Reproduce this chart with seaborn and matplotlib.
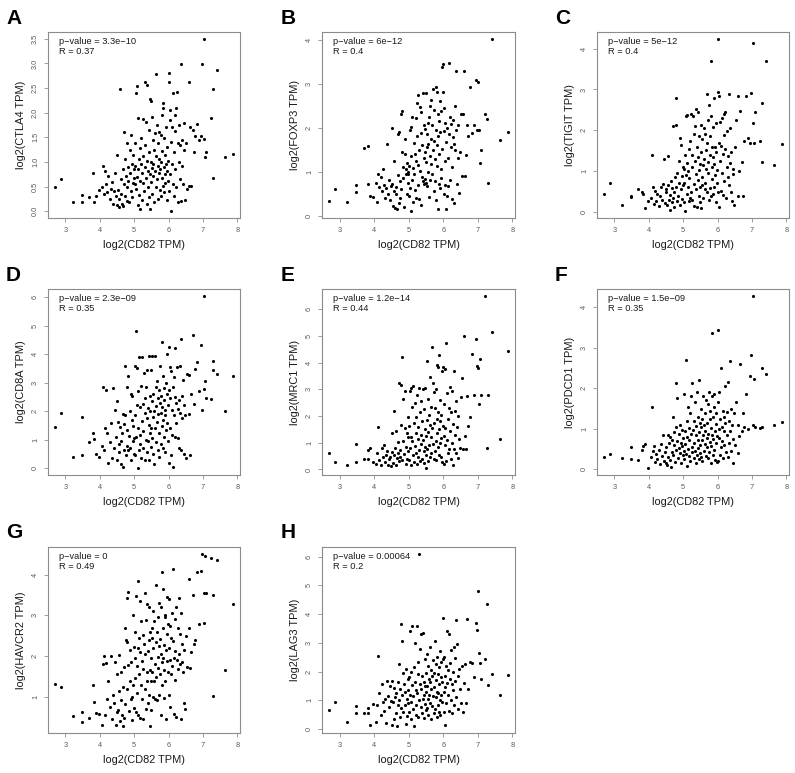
import matplotlib
matplotlib.use("Agg")
import matplotlib.pyplot as plt
import seaborn as sns

# --- data: log2(CD82 TPM) shared by all panels, gene values in the same order ---
CD82_X = [
    2.70, 2.87, 3.22, 3.47, 3.49,
    3.70, 3.81, 3.83, 3.89, 3.97,
    4.05, 4.09, 4.12, 4.15, 4.19, 4.22, 4.25, 4.29, 4.32, 4.35, 4.38, 4.41, 4.44, 4.46, 4.49,
    4.51, 4.53, 4.55, 4.57, 4.59, 4.61, 4.62, 4.64, 4.66, 4.68, 4.69, 4.71, 4.73, 4.74, 4.76,
    4.78, 4.79, 4.80, 4.82, 4.83, 4.85, 4.87, 4.88, 4.90, 4.91, 4.93, 4.94, 4.96, 4.97, 4.98, 4.99,
    5.01, 5.02, 5.03, 5.05, 5.06, 5.07, 5.08, 5.10, 5.11, 5.12, 5.13, 5.15, 5.16, 5.17, 5.18,
    5.20, 5.21, 5.22, 5.23, 5.25, 5.26, 5.27, 5.28, 5.30, 5.31, 5.32, 5.33, 5.35, 5.36, 5.37,
    5.38, 5.40, 5.41, 5.42, 5.43, 5.44, 5.45, 5.46, 5.47, 5.48, 5.49, 5.50,
    5.51, 5.52, 5.53, 5.54, 5.55, 5.56, 5.57, 5.58, 5.60, 5.61, 5.62, 5.63, 5.64, 5.65, 5.66,
    5.68, 5.69, 5.70, 5.71, 5.72, 5.73, 5.74, 5.76, 5.77, 5.78, 5.79, 5.80, 5.81, 5.82, 5.83,
    5.84, 5.85, 5.86, 5.87, 5.88, 5.89, 5.90, 5.91, 5.92, 5.93, 5.94, 5.95, 5.96, 5.97, 5.98,
    6.00, 6.01, 6.02, 6.03, 6.04, 6.05, 6.06, 6.08, 6.09, 6.10, 6.12, 6.13, 6.15, 6.16, 6.18,
    6.19, 6.20, 6.22, 6.23, 6.25, 6.26, 6.27, 6.29, 6.30, 6.32, 6.33, 6.35, 6.36, 6.38, 6.40,
    6.42, 6.44, 6.46, 6.48,
    6.52, 6.55, 6.58, 6.60, 6.63, 6.66, 6.70, 6.73, 6.78, 6.82, 6.88, 6.95, 6.97,
    7.02, 7.03, 7.05, 7.08, 7.22, 7.28, 7.30, 7.40, 7.65, 7.87,
]

CTLA4_Y = [
    0.50, 0.65, 0.18, 0.32, 0.19,
    0.29, 0.78, 0.18, 0.31, 0.42,
    0.48, 0.92, 0.35, 0.82, 0.55, 0.38, 0.72, 0.25, 0.45, 0.60, 0.15, 0.40, 0.78, 0.30, 1.15,
    0.12, 0.42, 0.25, 0.08, 2.49, 0.65, 0.35, 0.15, 0.85, 0.10, 1.60, 0.55, 0.30, 1.05, 0.72,
    0.20, 1.38, 0.48, 0.90, 0.62, 0.18, 1.25, 0.78, 0.40, 1.55, 0.95, 0.28, 0.58, 1.15, 0.68, 0.85,
    0.55, 0.92, 1.38, 0.45, 2.40, 2.55, 0.70, 0.12, 1.90, 0.85, 0.32, 1.05, 0.62, 1.28, 0.05,
    0.95, 1.48, 0.78, 0.22, 1.12, 1.88, 0.58, 0.40, 0.90, 1.35, 2.63, 0.68, 1.82, 0.15, 2.57,
    1.02, 0.48, 0.82, 1.65, 0.28, 1.20, 2.27, 0.75, 0.05, 2.23, 1.00, 0.60,
    1.92, 0.88, 0.35, 1.45, 0.72, 0.95, 1.25, 0.18, 1.58, 0.82, 0.48, 1.12, 2.79, 0.65, 1.75,
    0.92, 0.25, 1.38, 0.78, 1.05, 1.60, 0.42, 0.85, 1.55, 0.30, 1.00, 0.68, 1.95, 1.22, 0.52,
    2.20, 2.10, 0.90, 1.48, 0.38, 0.75, 1.15, 0.58, 1.70, 0.95, 0.22, 1.30, 0.82, 1.02, 0.62,
    2.80, 2.62, 0.40, 1.85, 2.05, 0.75, 1.40, 0.00, 1.70, 0.95, 0.55, 2.40, 1.20, 0.30, 1.62,
    1.95, 0.85, 2.10, 0.48, 2.42, 1.38, 0.18, 1.00, 1.75, 1.35, 0.65, 2.98, 0.20, 1.45, 0.92,
    0.55, 1.25, 1.80, 0.22,
    1.38, 0.45, 2.62, 0.52, 1.70, 0.52, 1.65, 1.20, 1.52, 1.78, 1.45, 1.52, 2.98,
    3.50, 1.47, 1.10, 1.20, 1.90, 2.48, 0.68, 2.86, 1.10, 1.17,
]

FOXP3_Y = [
    0.33, 0.61, 0.31, 0.70, 0.53,
    1.54, 1.59, 0.71, 0.45, 0.41,
    0.75, 0.30, 0.95, 0.65, 0.88, 0.55, 1.05, 0.70, 0.40, 0.62, 1.62, 0.50, 0.80, 0.35, 0.68,
    2.00, 0.72, 0.22, 0.55, 1.25, 0.18, 0.65, 0.48, 0.15, 1.85, 0.92, 0.28, 1.90, 0.78, 0.40,
    2.30, 0.60, 1.45, 2.38, 0.85, 1.10, 0.20, 1.40, 1.75, 0.95, 1.05, 0.50, 1.20, 0.75, 1.00, 0.95,
    1.12, 0.45, 1.95, 0.62, 2.02, 0.10, 1.35, 0.80, 2.25, 1.08, 0.30, 1.65, 0.95, 1.40, 0.58,
    2.22, 1.25, 0.40, 1.80, 2.55, 1.15, 0.70, 2.75, 1.50, 0.38, 2.48, 1.02, 0.25, 1.88, 2.35,
    0.88, 1.60, 2.78, 0.78, 1.30, 2.05, 0.72, 1.45, 0.82, 1.98, 0.75, 1.22,
    2.78, 1.55, 0.68, 1.85, 2.10, 1.00, 1.62, 0.42, 2.25, 1.35, 2.50, 0.80, 1.75, 2.62, 1.18,
    2.05, 0.95, 1.48, 2.88, 1.70, 0.55, 2.40, 1.28, 0.78, 2.92, 1.95, 0.35, 2.82, 1.12, 1.60,
    0.15, 2.30, 1.80, 0.72, 2.15, 1.40, 0.62, 2.60, 1.90, 1.05, 2.38, 0.85, 1.52, 3.39, 3.45,
    2.82, 0.48, 1.92, 2.45, 0.70, 1.25, 2.10, 0.15, 1.68, 0.45, 2.00, 1.30, 0.68, 3.47, 1.85,
    2.25, 0.80, 1.55, 2.08, 1.10, 0.38, 1.78, 2.18, 0.28, 1.62, 1.48, 2.50, 3.30, 1.95, 0.72,
    1.30, 2.05, 0.52, 1.45,
    2.32, 0.90, 2.30, 3.30, 0.90, 1.38, 2.05, 1.80, 2.92, 1.88, 2.05, 3.09, 1.95,
    3.04, 1.95, 1.19, 1.50, 2.31, 2.19, 0.74, 4.02, 1.72, 1.90,
]

TIGIT_Y = [
    0.44, 0.72, 0.16, 0.37, 0.39,
    0.55, 0.48, 0.45, 0.10, 0.27,
    0.35, 1.40, 0.62, 0.20, 0.52, 0.28, 0.45, 0.15, 0.38, 0.60, 0.30, 0.68, 1.30, 0.22, 0.50,
    0.55, 0.18, 1.38, 0.65, 0.30, 0.42, 0.05, 0.75, 0.25, 0.58, 0.35, 2.10, 0.48, 0.12, 0.85,
    2.12, 0.60, 2.79, 0.28, 0.95, 0.40, 1.25, 0.70, 1.80, 0.18, 0.55, 1.65, 0.88, 0.32, 1.10, 0.65,
    1.05, 0.25, 0.72, 1.40, 0.02, 0.90, 2.35, 0.45, 1.20, 2.38, 0.62, 1.00, 0.28, 1.55, 0.82,
    0.35, 1.75, 0.50, 2.40, 1.10, 0.30, 1.40, 2.35, 0.68, 1.90, 0.15, 2.10, 1.25, 0.55, 2.52,
    0.92, 1.60, 0.12, 1.35, 0.78, 2.45, 0.40, 1.85, 1.02, 0.25, 0.60, 1.18,
    0.10, 1.48, 2.12, 0.65, 1.78, 0.85, 1.15, 0.35, 2.05, 1.30, 0.55, 1.92, 0.72, 1.52, 1.05,
    2.90, 0.48, 1.68, 2.25, 0.95, 1.22, 0.30, 2.62, 1.40, 0.58, 1.85, 0.40, 2.35, 3.70, 1.10,
    0.80, 1.58, 2.08, 0.45, 1.35, 0.62, 2.80, 1.18, 0.90, 1.60, 0.25, 2.18, 1.48, 0.70, 1.02,
    4.24, 2.95, 0.48, 1.70, 2.85, 0.12, 1.25, 2.20, 0.52, 1.62, 0.95, 2.30, 1.42, 0.42, 1.88,
    2.40, 0.75, 1.55, 2.45, 0.35, 1.10, 1.98, 0.85, 1.38, 2.88, 0.65, 1.20, 2.05, 0.50, 1.48,
    0.28, 1.05, 0.92, 0.18,
    1.60, 2.25, 0.40, 2.85, 1.00, 2.48, 1.22, 0.38, 1.75, 2.85, 1.80, 1.69, 2.92,
    2.18, 4.13, 1.70, 2.45, 1.74, 2.67, 1.23, 3.69, 1.15, 1.66,
]

CD8A_Y = [
    1.45, 1.93, 0.39, 1.79, 0.47,
    0.91, 1.23, 1.03, 0.50, 0.40,
    0.78, 2.86, 0.65, 1.42, 2.73, 1.25, 0.18, 0.92, 1.60, 0.35, 2.80, 0.70, 2.03, 1.10, 0.30,
    2.35, 1.62, 0.85, 0.55, 1.45, 0.15, 0.95, 1.22, 0.05, 1.90, 1.55, 0.62, 3.58, 1.85, 0.45,
    1.35, 0.78, 2.85, 0.65, 3.22, 1.12, 2.02, 0.72, 2.60, 0.30, 1.70, 2.52, 0.95, 1.48, 0.50, 1.05,
    3.60, 0.45, 1.85, 4.82, 1.10, 3.50, 2.20, 0.00, 1.40, 2.70, 0.62, 3.90, 1.15, 2.15, 0.85,
    2.90, 0.35, 1.65, 3.92, 2.25, 0.72, 1.30, 3.35, 0.28, 1.95, 2.45, 1.00, 2.85, 3.45, 0.55,
    1.75, 2.10, 0.95, 3.93, 1.50, 0.30, 2.55, 1.22, 2.00, 0.75, 3.45, 1.40,
    2.35, 1.05, 3.93, 0.48, 2.62, 1.78, 2.00, 0.15, 3.95, 1.42, 2.85, 0.92, 2.18, 1.62, 3.05,
    0.65, 2.45, 1.90, 0.40, 2.75, 1.25, 3.60, 2.28, 0.85, 1.95, 2.55, 1.48, 4.42, 2.15, 0.70,
    1.70, 3.25, 2.40, 1.10, 2.80, 1.85, 0.55, 2.05, 3.00, 1.35, 2.60, 4.02, 1.58, 2.22, 0.95,
    4.26, 2.75, 0.18, 3.55, 1.40, 2.45, 0.45, 3.40, 2.05, 1.15, 2.85, 0.04, 1.85, 3.20, 2.50,
    1.10, 4.22, 2.30, 1.60, 3.55, 1.05, 2.08, 0.70, 2.38, 3.60, 1.92, 4.54, 0.65, 2.55, 1.75,
    3.10, 0.50, 2.20, 1.85,
    0.35, 3.30, 1.90, 3.28, 0.45, 2.60, 4.69, 2.25, 3.48, 3.72, 2.70, 4.34, 2.05,
    2.78, 6.05, 3.05, 2.45, 2.43, 3.76, 3.45, 3.30, 2.00, 3.23,
]

MRC1_Y = [
    0.62, 0.28, 0.16, 0.95, 0.28,
    0.40, 0.40, 0.74, 0.82, 0.28,
    0.19, 0.62, 1.58, 0.35, 0.15, 0.82, 0.45, 0.92, 0.28, 0.55, 0.70, 0.18, 0.38, 0.48, 0.12,
    0.65, 1.38, 0.25, 2.18, 0.55, 0.80, 0.15, 1.45, 0.42, 0.62, 1.02, 0.30, 3.22, 0.72, 0.48,
    3.15, 1.68, 4.23, 0.35, 2.65, 1.05, 0.58, 2.95, 1.55, 0.22, 0.85, 1.35, 0.40, 1.95, 0.70, 1.20,
    1.62, 0.35, 2.92, 0.80, 3.05, 1.20, 0.18, 2.35, 1.05, 0.55, 3.12, 1.75, 0.28, 2.50, 0.88,
    1.38, 0.60, 1.95, 0.20, 2.80, 1.15, 0.45, 1.60, 3.05, 0.72, 2.15, 0.32, 1.30, 2.58, 0.95,
    1.80, 0.40, 3.00, 1.10, 0.68, 2.25, 0.25, 1.50, 3.05, 0.85, 0.05, 1.25,
    0.55, 1.85, 4.05, 0.75, 2.62, 1.40, 0.30, 2.05, 0.90, 1.65, 0.48, 3.45, 1.20, 2.35, 0.62,
    4.57, 1.55, 0.95, 3.25, 0.40, 2.90, 1.75, 0.70, 2.30, 1.05, 3.00, 0.35, 1.90, 3.90, 1.35,
    0.85, 3.82, 2.15, 0.55, 1.50, 4.30, 0.98, 1.80, 2.60, 0.45, 1.18, 2.05, 3.70, 0.28, 1.62,
    3.85, 1.25, 0.22, 2.45, 3.78, 0.90, 1.55, 0.30, 4.72, 1.10, 2.85, 0.60, 1.90, 2.30, 0.75,
    3.10, 1.45, 0.40, 2.15, 1.00, 2.95, 0.18, 1.72, 3.70, 0.75, 2.20, 1.30, 0.62, 2.55, 1.60,
    0.42, 2.00, 1.15, 0.80,
    2.72, 3.42, 0.75, 4.99, 1.25, 0.75, 2.75, 1.62, 1.96, 4.31, 2.78, 4.88, 3.87,
    3.81, 2.45, 4.13, 2.78, 6.50, 0.79, 2.78, 5.15, 1.15, 4.44,
]

PDCD1_Y = [
    0.30, 0.37, 0.27, 0.55, 0.25,
    0.22, 0.47, 0.58, 0.63, 0.03,
    0.30, 1.55, 0.45, 0.58, 0.18, 0.38, 0.25, 0.48, 0.12, 0.62, 0.32, 0.85, 0.20, 0.42, 0.15,
    0.55, 0.10, 0.85, 0.30, 0.65, 0.22, 0.80, 0.05, 0.42, 0.72, 1.28, 0.35, 0.60, 0.92, 0.18,
    1.05, 0.48, 2.14, 0.70, 1.75, 0.28, 0.88, 0.52, 1.10, 0.40, 0.65, 0.15, 0.98, 0.58, 0.35, 0.78,
    0.45, 1.85, 0.25, 0.95, 0.62, 2.70, 0.38, 1.20, 0.80, 0.08, 1.55, 0.50, 1.02, 0.32, 0.72,
    1.38, 0.20, 0.88, 1.80, 0.55, 0.42, 2.12, 0.98, 0.28, 1.20, 0.65, 0.45, 1.65, 0.85, 0.15,
    1.08, 1.90, 0.35, 0.72, 1.30, 0.52, 2.20, 0.92, 0.25, 0.60, 1.15, 0.40,
    1.05, 0.30, 1.50, 0.72, 0.20, 1.25, 0.85, 1.82, 0.45, 1.10, 0.62, 1.40, 0.95, 0.32, 1.70,
    0.78, 1.15, 0.55, 1.62, 0.28, 0.88, 1.92, 0.42, 1.25, 0.68, 1.45, 0.15, 1.02, 0.58, 1.80,
    0.85, 3.36, 0.35, 1.30, 0.75, 1.55, 0.48, 1.85, 0.95, 0.22, 1.12, 0.65, 1.40, 0.82, 0.18,
    3.44, 1.65, 0.20, 1.00, 0.78, 1.90, 0.35, 1.25, 0.55, 2.49, 1.05, 0.70, 1.45, 0.28, 0.95,
    1.30, 0.60, 1.15, 2.05, 0.42, 1.42, 0.85, 2.15, 0.30, 1.20, 0.65, 2.67, 0.95, 1.50, 0.45,
    1.10, 0.15, 0.75, 1.40,
    0.60, 1.65, 0.40, 1.10, 0.82, 2.60, 0.95, 1.38, 1.05, 1.87, 1.00, 2.31, 2.82,
    1.10, 4.28, 2.24, 1.05, 1.01, 2.49, 1.04, 2.35, 1.09, 1.17,
]

HAVCR2_Y = [
    1.31, 1.24, 0.52, 0.63, 0.37,
    0.49, 1.29, 0.87, 0.59, 0.57,
    0.30, 1.80, 2.00, 0.55, 1.82, 0.95, 1.40, 0.75, 2.00, 0.45, 1.05, 0.85, 1.85, 0.30, 0.62,
    1.55, 0.68, 1.15, 2.02, 0.40, 0.92, 1.62, 0.55, 0.28, 1.25, 1.72, 0.48, 2.70, 0.82, 2.40,
    1.20, 2.35, 3.42, 1.78, 3.58, 0.65, 1.40, 2.15, 0.95, 1.85, 0.42, 1.00, 3.02, 1.30, 0.72, 2.22,
    1.95, 1.45, 2.60, 0.62, 3.48, 1.75, 1.10, 3.84, 2.20, 0.55, 2.45, 1.55, 3.35, 0.48, 2.10,
    1.30, 2.85, 0.95, 1.88, 2.52, 0.45, 1.68, 2.30, 3.55, 1.20, 2.05, 0.70, 2.88, 1.62, 1.40,
    3.28, 2.12, 0.85, 2.40, 1.05, 3.20, 1.65, 0.28, 2.58, 1.38, 1.95, 0.68,
    2.45, 1.60, 2.68, 1.00, 3.10, 2.20, 1.38, 2.85, 0.95, 1.80, 3.75, 2.35, 1.48, 2.60, 0.92,
    1.98, 2.95, 1.70, 2.25, 1.05, 3.30, 1.55, 2.42, 0.55, 3.20, 2.05, 1.85, 4.07, 1.30, 2.70,
    1.95, 3.65, 0.98, 2.28, 1.65, 2.95, 1.40, 3.00, 2.15, 0.45, 2.55, 1.88, 3.45, 1.60, 2.80,
    3.40, 2.20, 1.05, 1.90, 2.75, 0.75, 2.45, 1.55, 3.05, 1.75, 4.15, 2.38, 0.58, 1.95, 2.90,
    1.42, 2.12, 3.20, 0.50, 1.90, 2.70, 1.68, 3.42, 2.05, 1.80, 2.55, 0.45, 3.05, 1.85, 2.30,
    1.60, 2.15, 0.85, 0.70,
    2.50, 1.72, 2.70, 3.90, 1.70, 2.10, 3.50, 2.30, 2.40, 4.07, 2.78, 4.10, 4.51,
    2.82, 3.54, 4.46, 3.54, 4.42, 1.02, 3.49, 4.36, 1.67, 3.28,
]

LAG3_Y = [
    0.67, 0.93, 0.23, 0.80, 0.56,
    0.55, 0.74, 0.55, 0.15, 0.88,
    0.23, 0.85, 2.53, 1.25, 0.50, 1.58, 0.95, 0.62, 1.05, 0.20, 1.68, 1.15, 0.75, 1.50, 0.98,
    1.68, 0.15, 0.95, 1.42, 0.35, 1.10, 0.55, 1.25, 0.12, 1.65, 0.82, 2.25, 1.00, 0.40, 1.38,
    3.66, 0.72, 3.05, 1.18, 1.95, 0.60, 1.55, 0.85, 1.28, 0.18, 2.10, 1.05, 0.45, 1.75, 0.90, 1.35,
    1.80, 0.60, 3.41, 1.20, 0.35, 2.00, 0.95, 3.58, 1.52, 0.70, 1.15, 2.15, 0.10, 1.65, 3.00,
    0.85, 1.35, 0.50, 3.60, 1.25, 1.90, 0.40, 2.35, 6.10, 1.00, 1.55, 2.78, 0.75, 1.40, 3.30,
    0.55, 1.85, 1.05, 3.35, 0.38, 1.62, 1.20, 2.45, 0.88, 1.48, 0.65, 1.95,
    1.30, 2.60, 0.72, 1.50, 1.05, 2.20, 0.48, 1.75, 1.20, 2.85, 0.90, 1.62, 0.35, 2.05, 1.40,
    0.80, 1.85, 2.40, 1.15, 0.55, 1.95, 1.45, 3.05, 0.68, 2.25, 1.10, 1.70, 0.42, 2.50, 1.30,
    0.85, 1.90, 1.25, 2.15, 0.60, 1.58, 2.70, 1.02, 0.50, 1.80, 2.35, 1.20, 0.95, 1.65, 2.45,
    3.85, 1.30, 0.58, 2.50, 1.85, 0.15, 1.45, 2.20, 0.90, 3.41, 1.60, 2.05, 1.20, 3.30, 0.62,
    1.75, 2.30, 1.02, 2.75, 1.55, 0.55, 2.00, 1.35, 2.85, 0.85, 1.68, 2.48, 1.10, 3.80, 2.95,
    1.85, 0.70, 2.10, 1.40,
    0.90, 2.20, 0.60, 1.60, 2.25, 0.90, 3.84, 1.40, 2.35, 2.30, 1.82, 3.69, 3.46,
    4.81, 2.64, 2.30, 1.75, 2.45, 4.36, 1.54, 1.91, 1.17, 1.89,
]

PANEL_LETTERS = ["A", "B", "C", "D", "E", "F", "G", "H"]
GENES = ["CTLA4", "FOXP3", "TIGIT", "CD8A", "MRC1", "PDCD1", "HAVCR2", "LAG3"]
GENE_VALUES = [CTLA4_Y, FOXP3_Y, TIGIT_Y, CD8A_Y, MRC1_Y, PDCD1_Y, HAVCR2_Y, LAG3_Y]
P_VALUES = ["3.3e\u221210", "6e\u221212", "5e\u221212", "2.3e\u221209",
            "1.2e\u221214", "1.5e\u221209", "0", "0.00064"]
R_VALUES = ["0.37", "0.4", "0.4", "0.35", "0.44", "0.35", "0.49", "0.2"]
X_TICKS = [3, 4, 5, 6, 7, 8]
Y_TICKS = [
    [0.0, 0.5, 1.0, 1.5, 2.0, 2.5, 3.0, 3.5],
    [0, 1, 2, 3, 4],
    [0, 1, 2, 3, 4],
    [0, 1, 2, 3, 4, 5, 6],
    [0, 1, 2, 3, 4, 5, 6],
    [0, 1, 2, 3, 4],
    [1, 2, 3, 4],
    [0, 1, 2, 3, 4, 5, 6],
]

# --- layout (pixels in a 795x773 figure) ---
FIG_W, FIG_H = 795, 773
COL_LEFT = [48, 322, 597]
COL_WIDTH = [192, 193, 192]
ROW_TOP = [32, 289, 547]
ROW_HEIGHT = [186, 186, 186]
LETTER_X = [6, 281, 555]
LETTER_Y = [9, 266, 523]

BOX_COLOR = "#8c8c8c"
TICK_LABEL_COLOR = "#5a5a5a"
TEXT_COLOR = "#1a1a1a"


def r_limits(values):
    """Axis range like R's default: data range padded by 4% on each side."""
    lo, hi = min(values), max(values)
    pad = (hi - lo) * 0.04
    return lo - pad, hi + pad


def plot_panel(fig, i):
    row, col = divmod(i, 3)
    left = COL_LEFT[col] / FIG_W
    bottom = 1 - (ROW_TOP[row] + ROW_HEIGHT[row]) / FIG_H
    ax = fig.add_axes([left, bottom, COL_WIDTH[col] / FIG_W, ROW_HEIGHT[row] / FIG_H])

    sns.scatterplot(x=CD82_X, y=GENE_VALUES[i], ax=ax, color="black",
                    s=5, linewidth=0, legend=False)

    ax.set_xlim(*r_limits(CD82_X))
    ax.set_ylim(*r_limits(GENE_VALUES[i]))
    ax.set_xticks(X_TICKS)
    ax.set_yticks(Y_TICKS[i])
    if i == 0:
        ax.set_yticklabels([f"{t:.1f}" for t in Y_TICKS[i]])
    else:
        ax.set_yticklabels([str(t) for t in Y_TICKS[i]])
    for lab in ax.get_yticklabels():
        lab.set_rotation(90)
        lab.set_va("center")

    ax.tick_params(axis="both", direction="out", length=3, width=0.6,
                   color=BOX_COLOR, labelcolor=TICK_LABEL_COLOR,
                   labelsize=5.3, pad=3.5, bottom=True, left=True)
    for spine in ax.spines.values():
        spine.set_visible(True)
        spine.set_color(BOX_COLOR)
        spine.set_linewidth(0.8)

    ax.set_xlabel("log2(CD82 TPM)", fontsize=7.9, color=TEXT_COLOR, labelpad=4)
    ax.set_ylabel(f"log2({GENES[i]} TPM)", fontsize=7.9, color=TEXT_COLOR, labelpad=4)

    ax.text(0.057, 0.972, f"p\u2212value = {P_VALUES[i]}\nR = {R_VALUES[i]}",
            transform=ax.transAxes, ha="left", va="top", fontsize=6.7,
            color=TEXT_COLOR, linespacing=1.15)

    fig.text(LETTER_X[col] / FIG_W, 1 - LETTER_Y[row] / FIG_H, PANEL_LETTERS[i],
             ha="left", va="top", fontsize=15, fontweight="bold", color="black")


def main():
    sns.set_theme(style="white")
    plt.rcParams["font.family"] = ["Liberation Sans", "DejaVu Sans"]

    for name, vals in zip(GENES, GENE_VALUES):
        assert len(vals) == len(CD82_X), f"{name}: {len(vals)} vs {len(CD82_X)}"

    fig = plt.figure(figsize=(FIG_W / 100, FIG_H / 100), dpi=100)
    fig.patch.set_facecolor("white")
    for i in range(len(GENES)):
        plot_panel(fig, i)
    fig.savefig("out.png", dpi=100, facecolor="white")
    plt.close(fig)


if __name__ == "__main__":
    main()
